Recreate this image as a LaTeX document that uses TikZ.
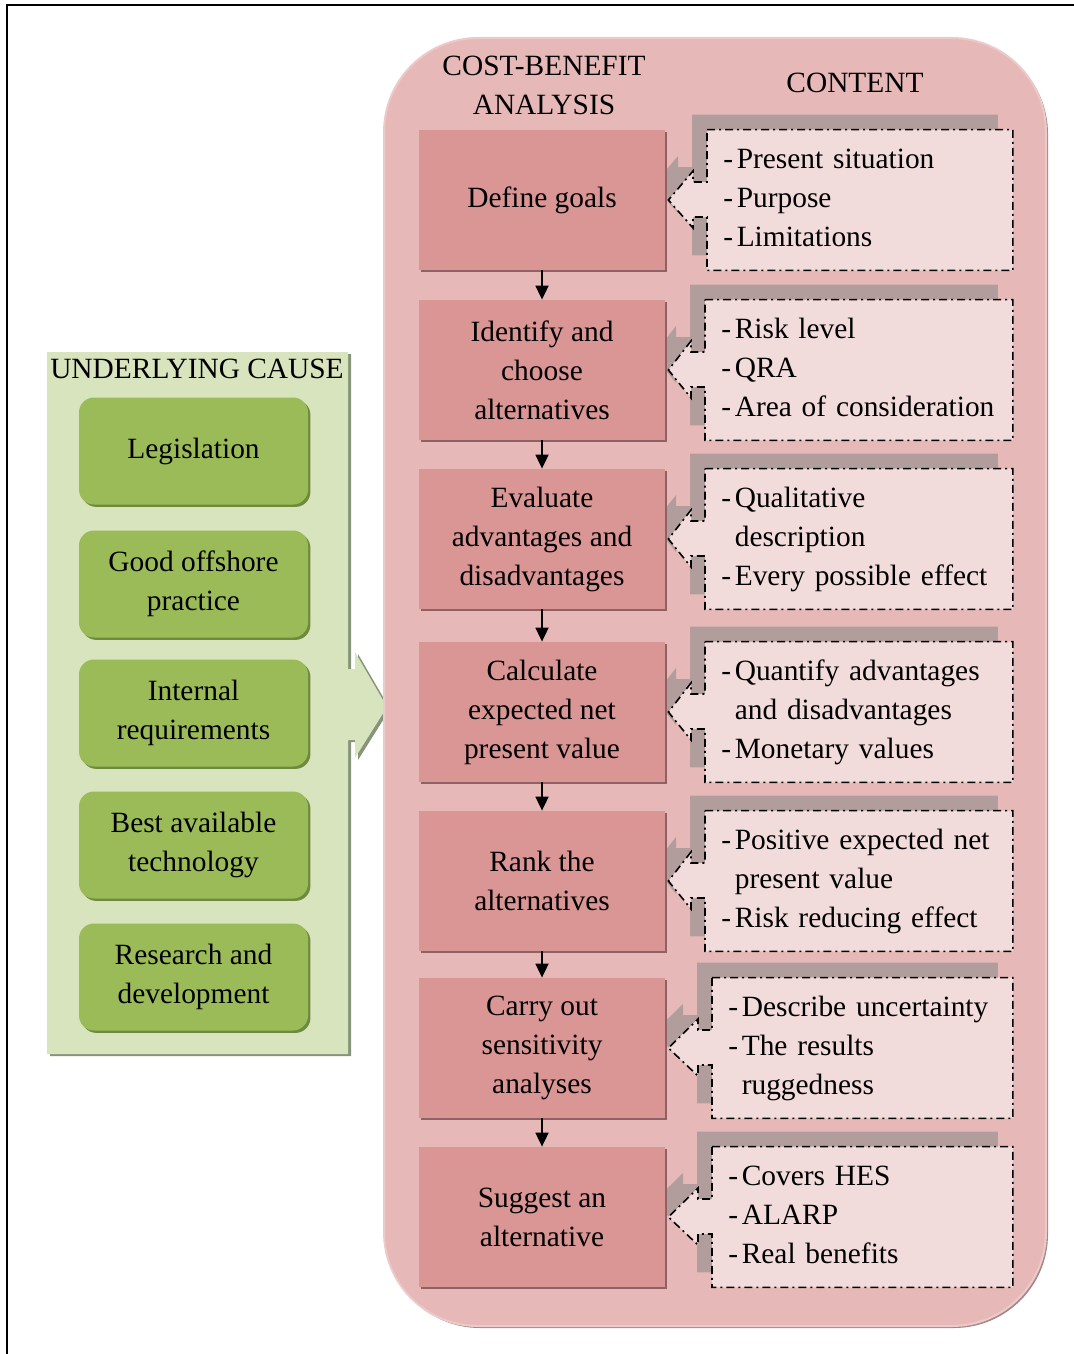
\documentclass[tikz,border=0pt]{standalone}
\usepackage{fontspec}
\setmainfont{Liberation Serif}
\usetikzlibrary{arrows.meta,calc,shadows}

\definecolor{panelpink}{HTML}{E6B9B8}
\definecolor{panelpinkdark}{HTML}{A98686}
\definecolor{panelpinklight}{HTML}{EDCACA}
\definecolor{steppink}{HTML}{D99694}
\definecolor{stepshade}{HTML}{8E6262}
\definecolor{contentpink}{HTML}{F2DCDB}
\definecolor{contentshade}{HTML}{B29D9D}
\definecolor{panelgreen}{HTML}{D7E4BD}
\definecolor{panelgreenshade}{HTML}{87947A}
\definecolor{causegreen}{HTML}{9BBB59}
\definecolor{causeshade}{HTML}{6E8A3C}

\pgfdeclarelayer{panels}
\pgfdeclarelayer{frames}
\pgfsetlayers{panels,frames,main}

\newcommand{\contentlist}[1]{\begin{tabular}{@{}l@{\hspace{1.8pt}}l@{}}#1\end{tabular}}

\tikzset{
  stepbox/.style={rectangle, fill=steppink, minimum width=123pt, minimum height=70pt,
    align=center, general shadow={shadow xshift=1.2pt, shadow yshift=-1.2pt, fill=stepshade}},
  causebox/.style={rectangle, rounded corners=7.5pt, fill=causegreen, minimum width=114.5pt,
    minimum height=53.5pt, align=center,
    general shadow={shadow xshift=1.2pt, shadow yshift=-1.2pt, fill=causeshade}},
  contentbox/.style={rectangle, anchor=west, minimum height=70pt, inner xsep=8pt, align=left},
  calloutline/.style={fill=contentpink, draw=black, line width=0.8pt,
    dash pattern=on 4pt off 2pt on 1pt off 2pt},
  flowarrow/.style={-{Triangle[length=7pt,width=6.5pt]}, line width=0.9pt},
}

\begin{document}
\begin{tikzpicture}[x=0.5pt, y=-0.5pt, font=\fontsize{14.7}{19.5}\selectfont]
  \useasboundingbox (0,0) rectangle (1074,1354);
  % frame
  \draw[line width=1pt] (7,1354) -- (7,5) -- (1074,5);

  \begin{pgfonlayer}{panels}
  % underlying cause panel with arrow
  \fill[panelgreenshade] (50,354) -- (351,354) -- (351,671) -- (358,671) -- (358,654)
    -- (390,709) -- (358,760) -- (358,742) -- (351,742) -- (351,1056) -- (50,1056) -- cycle;
  \fill[panelgreen] (47,352) -- (348,352) -- (348,669) -- (355,669) -- (355,652)
    -- (387,707) -- (355,758) -- (355,740) -- (348,740) -- (348,1054) -- (47,1054) -- cycle;
  % cost-benefit panel
  \fill[panelpinkdark, rounded corners=47pt] (386,40) rectangle (1048,1328);
  \fill[panelpink, draw=panelpinklight, line width=1pt, rounded corners=47pt]
    (384,38) rectangle (1046,1326);
  \end{pgfonlayer}

  \node (causeTitle) at (197,369) {UNDERLYING CAUSE};
  \node (cbaTitle) [align=center] at (544,85) {COST-BENEFIT\\ANALYSIS};
  \node (contentTitle) at (855,83) {CONTENT};

  \node[causebox] (g1) at (193.5,451) {Legislation};
  \node[causebox] (g2) at (193.5,584) {Good offshore\\practice};
  \node[causebox] (g3) at (193.5,713) {Internal\\requirements};
  \node[causebox] (g4) at (193.5,845) {Best available\\technology};
  \node[causebox] (g5) at (193.5,977) {Research and\\development};

  \node[stepbox] (s1) at (542,200) {Define goals};
  \node[stepbox] (s2) at (542,370) {Identify and\\choose\\alternatives};
  \node[stepbox] (s3) at (542,539) {Evaluate\\advantages and\\disadvantages};
  \node[stepbox] (s4) at (542,712) {Calculate\\expected net\\present value};
  \node[stepbox] (s5) at (542,881) {Rank the\\alternatives};
  \node[stepbox] (s6) at (542,1048) {Carry out\\sensitivity\\analyses};
  \node[stepbox] (s7) at (542,1217) {Suggest an\\alternative};

  \foreach \a/\b in {s1/s2,s2/s3,s3/s4,s4/s5,s5/s6,s6/s7}
    \draw[flowarrow] (\a) -- (\b);

  \node[contentbox, text width=136.5pt] (c1) at (707,200)
    {\contentlist{- & Present situation\\ - & Purpose\\ - & Limitations}};
  \node[contentbox, text width=137.5pt] (c2) at (705,370)
    {\contentlist{- & Risk level\\ - & QRA\\ - & Area of consideration}};
  \node[contentbox, text width=137.5pt] (c3) at (705,539)
    {\contentlist{- & Qualitative\\ & description\\ - & Every possible effect}};
  \node[contentbox, text width=137.5pt] (c4) at (705,712)
    {\contentlist{- & Quantify advantages\\ & and disadvantages\\ - & Monetary values}};
  \node[contentbox, text width=137.5pt] (c5) at (705,881)
    {\contentlist{- & Positive expected net\\ & present value\\ - & Risk reducing effect}};
  \node[contentbox, text width=134pt] (c6) at (712,1048)
    {\contentlist{- & Describe uncertainty\\ - & The results\\ & ruggedness}};
  \node[contentbox, text width=134pt] (c7) at (712,1217)
    {\contentlist{- & Covers HES\\ - & ALARP\\ - & Real benefits}};

  % callout frames behind the content texts
  \begin{pgfonlayer}{frames}
  \foreach \i in {1,...,7}{
    \fill[contentshade, transform canvas={xshift=-7.5pt, yshift=7.5pt}]
      (c\i.north west) -- (c\i.north east) -- (c\i.south east) -- (c\i.south west)
      -- ($(c\i.west)+(0,17)$) -- ++(-14,0) -- ++(0,11) -- ($(s\i.east)+(3,0)$)
      -- ($(c\i.west)+(-14,-29)$) -- ++(0,11) -- ++(14,0) -- cycle;
    \draw[calloutline]
      (c\i.north west) -- (c\i.north east) -- (c\i.south east) -- (c\i.south west)
      -- ($(c\i.west)+(0,17)$) -- ++(-14,0) -- ++(0,11) -- ($(s\i.east)+(3,0)$)
      -- ($(c\i.west)+(-14,-29)$) -- ++(0,11) -- ++(14,0) -- cycle;
  }
  \end{pgfonlayer}
\end{tikzpicture}
\end{document}
